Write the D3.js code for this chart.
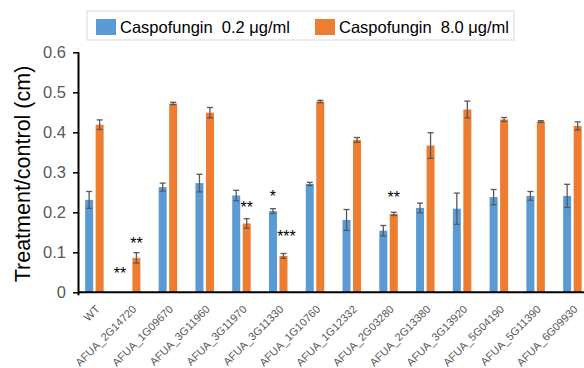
<!DOCTYPE html>
<html>
<head>
<meta charset="utf-8">
<script src="https://cdn.jsdelivr.net/npm/d3@7"></script>
<style>
  body { margin: 0; background: #fff; }
  text { font-family: "Liberation Sans", Arial, sans-serif; }
</style>
</head>
<body>
<svg class="chart" width="584" height="368"></svg>
<script>
const categories = ["WT", "AFUA_2G14720", "AFUA_1G09670", "AFUA_3G11960", "AFUA_3G11970",
    "AFUA_3G11330", "AFUA_1G10760", "AFUA_1G12332", "AFUA_2G03280", "AFUA_2G13380",
    "AFUA_3G13920", "AFUA_5G04190", "AFUA_5G11390", "AFUA_6G09930"]
const seriesNames = ["Caspofungin  0.2 μg/ml", "Caspofungin  8.0 μg/ml"]
const lowValues = [0.231, 0, 0.263, 0.273, 0.242, 0.203, 0.271, 0.181, 0.154, 0.211, 0.209, 0.238, 0.241, 0.241]
const lowErrors = [0.021, 0, 0.010, 0.022, 0.013, 0.006, 0.004, 0.026, 0.013, 0.012, 0.039, 0.019, 0.011, 0.029]
const highValues = [0.419, 0.086, 0.472, 0.449, 0.172, 0.091, 0.477, 0.381, 0.196, 0.367, 0.457, 0.432, 0.427, 0.416]
const highErrors = [0.012, 0.013, 0.003, 0.013, 0.012, 0.006, 0.003, 0.006, 0.004, 0.032, 0.021, 0.005, 0.002, 0.010]
const yTicks = [0, 0.1, 0.2, 0.3, 0.4, 0.5, 0.6]
// significance marks: category, series (0 low / 1 high), label, level
const stars = [
    {cat: "AFUA_2G14720", s: 0, label: "**", level: 0.055},
    {cat: "AFUA_2G14720", s: 1, label: "**", level: 0.131},
    {cat: "AFUA_3G11970", s: 1, label: "**", level: 0.221},
    {cat: "AFUA_3G11330", s: 0, label: "*", level: 0.249},
    {cat: "AFUA_3G11330", s: 1, label: "***", level: 0.149},
    {cat: "AFUA_2G03280", s: 1, label: "**", level: 0.245}
]
const colors = ["#5b9bd5", "#ed7d31"]

const svg = d3.select(".chart")
const x0 = 79, yBottom = 292.3, yTop = 52.3

const x = d3.scaleBand().domain(categories).range([76, 76 + 36.77 * categories.length])
const y = d3.scaleLinear().domain([0, 0.6]).range([yBottom, yTop])
const barW = 8, gap = 2.5

const data = []
categories.forEach(function(c, i){
    data.push({cat: c, s: 0, v: lowValues[i], e: lowErrors[i]})
    data.push({cat: c, s: 1, v: highValues[i], e: highErrors[i]})
})
function barX(d){
    const c = x(d.cat) + x.bandwidth() / 2
    return d.s === 0 ? c - gap / 2 - barW : c + gap / 2
}

// bars
svg.append("g").selectAll("rect")
    .data(data.filter(d => d.v > 0))
    .enter().append("rect")
    .attr("x", barX)
    .attr("y", d => y(d.v))
    .attr("width", barW)
    .attr("height", d => yBottom - y(d.v))
    .attr("fill", d => colors[d.s])

// error bars
const eb = svg.append("g").attr("stroke", "#595959").attr("stroke-width", 1.3)
data.filter(d => d.e > 0).forEach(function(d){
    const cx = barX(d) + barW / 2
    eb.append("line").attr("x1", cx).attr("x2", cx).attr("y1", y(d.v + d.e)).attr("y2", y(d.v - d.e))
    eb.append("line").attr("x1", cx - 3).attr("x2", cx + 3).attr("y1", y(d.v + d.e)).attr("y2", y(d.v + d.e))
    eb.append("line").attr("x1", cx - 3).attr("x2", cx + 3).attr("y1", y(d.v - d.e)).attr("y2", y(d.v - d.e))
})

// stars
svg.append("g").selectAll("text")
    .data(stars)
    .enter().append("text")
    .attr("x", d => barX(d) + barW / 2 + (d.label.length === 3 ? 3 : 0) - (d.s === 0 && d.label.length === 2 ? 6 : 0))
    .attr("y", d => y(d.level) + 9)
    .attr("text-anchor", "middle")
    .attr("font-size", 16)
    .attr("fill", "#000")
    .text(d => d.label)

// y axis
const yAxis = svg.append("g")
    .attr("transform", `translate(${x0},0)`)
    .call(d3.axisLeft(y).tickValues(yTicks).tickSize(6).tickPadding(7)
        .tickFormat(d => d === 0 ? "0" : d3.format(".1f")(d)))
yAxis.select(".domain").attr("stroke", "#000").attr("stroke-width", 2).attr("d", `M-0.5,${yTop}V${yBottom + 3}`)
yAxis.selectAll(".tick line").attr("stroke", "#000").attr("stroke-width", 1.5)
yAxis.selectAll(".tick text").attr("font-size", 16.5).attr("fill", "#595959")
    .attr("font-family", "Liberation Sans, Arial, sans-serif")

// x axis
const xAxis = svg.append("g")
    .attr("transform", `translate(0,${yBottom})`)
    .call(d3.axisBottom(x).tickSize(0).tickPadding(0))
xAxis.select(".domain").attr("stroke", "#000").attr("stroke-width", 2).attr("d", `M${x0 - 1},0H584`)
xAxis.selectAll(".tick text")
    .attr("font-size", 11)
    .attr("fill", "#595959")
    .attr("font-family", "Liberation Sans, Arial, sans-serif")
    .attr("text-anchor", "end")
    .attr("dy", null)
    .attr("transform", "translate(6,17.5) rotate(-45)")

// y title
svg.append("text")
    .attr("transform", "translate(30,174) rotate(-90)")
    .attr("text-anchor", "middle")
    .attr("font-size", 21.5)
    .attr("fill", "#000")
    .text("Treatment/control (cm)")

// legend
const legend = svg.append("g")
legend.append("rect")
    .attr("x", 87).attr("y", 11).attr("width", 427).attr("height", 29)
    .attr("fill", "#fff").attr("stroke", "#d9d9d9").attr("stroke-width", 1)
const legX = [96, 315]
seriesNames.forEach(function(name, i){
    legend.append("rect").attr("x", legX[i]).attr("y", 19).attr("width", 20).attr("height", 16).attr("fill", colors[i])
    legend.append("text")
        .attr("x", legX[i] + 24).attr("y", 33)
        .attr("font-size", 16.5)
        .attr("fill", "#000")
        .style("white-space", "pre")
        .text(name)
})
</script>
</body>
</html>
